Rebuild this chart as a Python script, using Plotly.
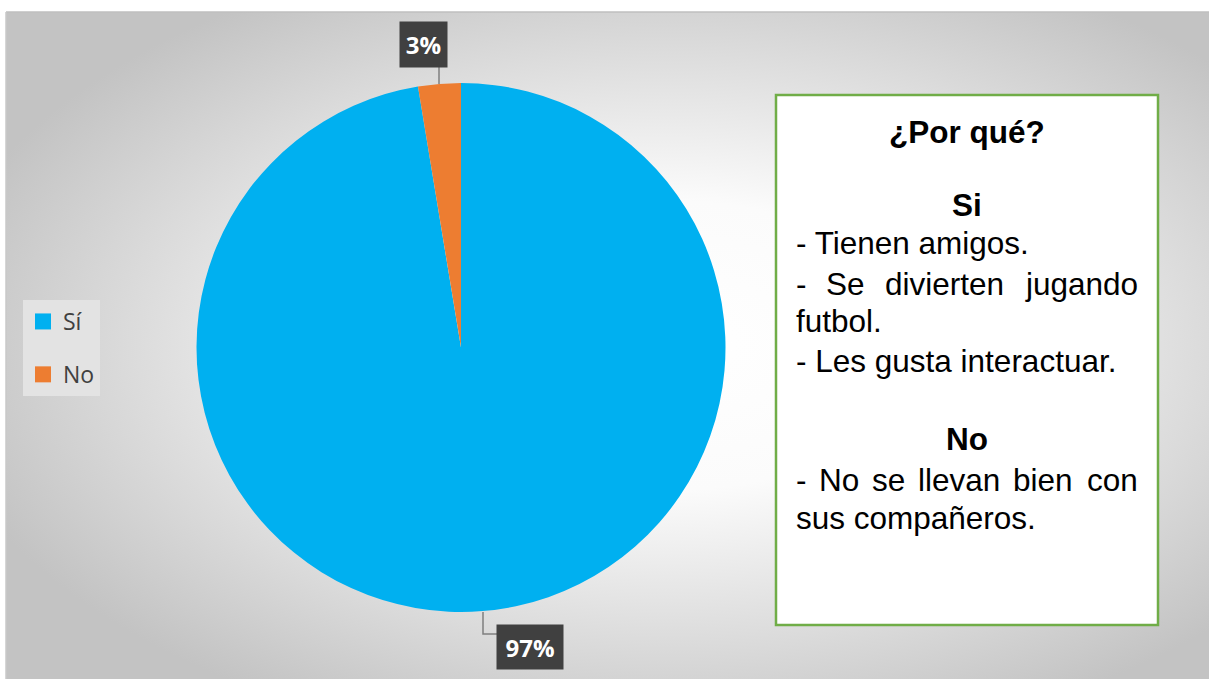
"""
Gráfico de pastel: ¿Le gusta ir a la escuela? con cuadro de razones
"""

import base64
import plotly.graph_objects as go

# Datos del gráfico
categorias = ["Sí", "No"]
porcentajes = [97.4, 2.6]
colores = ["#00b0f0", "#ed7d31"]

# Texto del cuadro de la derecha
titulo_cuadro = "¿Por qué?"
subtitulo_si = "Si"
razones_si = ["- Tienen amigos.", "- Se divierten jugando", "futbol.", "- Les gusta interactuar."]
subtitulo_no = "No"
razones_no = ["- No se llevan bien con", "sus compañeros."]

W, H = 1209, 679


def px(x):
    return x / W


def py(y):
    return 1 - y / H


# Fondo con degradado radial (como el relleno del área del gráfico)
svg_fondo = (
    '<svg xmlns="http://www.w3.org/2000/svg" width="1203" height="667" '
    'preserveAspectRatio="none">'
    '<defs><radialGradient id="g" cx="0.55" cy="0.5" r="0.62">'
    '<stop offset="0" stop-color="#ffffff"/>'
    '<stop offset="0.35" stop-color="#fbfbfb"/>'
    '<stop offset="1" stop-color="#c3c3c3"/>'
    '</radialGradient></defs>'
    '<rect width="1203" height="667" fill="url(#g)"/></svg>'
)
fuente_fondo = "data:image/svg+xml;base64," + base64.b64encode(svg_fondo.encode()).decode()

fig = go.Figure()

fig.add_trace(go.Pie(
    labels=categorias,
    values=porcentajes,
    marker=dict(colors=colores, line=dict(width=0)),
    sort=False,
    direction="clockwise",
    rotation=0,
    textinfo="none",
    showlegend=False,
    domain=dict(x=[px(196.5), px(725.5)], y=[py(612), py(83)]),
    hovertemplate="%{label}: %{percent}<extra></extra>"
))

# Leyenda con trazas auxiliares (para controlar el espaciado)
for cat, col in zip(categorias, colores):
    fig.add_trace(go.Scatter(
        x=[None], y=[None], mode="markers", name=cat,
        legendgroup=cat,
        marker=dict(symbol="square", size=16, color=col),
    ))

# Etiquetas de porcentaje en cajas oscuras
total = sum(porcentajes)
etiquetas = [f"{v / total * 100:.0f}%" for v in porcentajes]
cajas = [(530, 647, 66, 44), (423.5, 44.5, 47, 45)]  # (cx, cy, ancho, alto) para Sí, No

anotaciones = []
for texto, (cx, cy, w, h) in zip(etiquetas, cajas):
    anotaciones.append(dict(
        text=f"<b>{texto}</b>", xref="paper", yref="paper",
        x=px(cx), y=py(cy), xanchor="center", yanchor="middle",
        showarrow=False, bgcolor="#404040", width=w - 4, height=h - 4,
        borderpad=2, font=dict(family="Open Sans", size=24, color="white")
    ))

fuente_caja = "Liberation Sans"
tam = 31.5

# anchos de Arial (en milésimas de em) para justificar las líneas
anchos_arial = {
    "-": 333, "S": 667, "e": 556, "d": 556, "i": 222, "v": 500, "r": 333, "t": 278,
    "n": 556, "j": 222, "u": 556, "g": 556, "a": 556, "o": 556, "N": 722, "s": 500,
    "l": 222, "b": 556, "c": 500,
}


def linea(texto, x, y, anchor="left", negrita=False):
    ajuste = {"left": -2, "right": 2, "center": 0}[anchor]
    return dict(
        text=f"<b>{texto}</b>" if negrita else texto,
        xref="paper", yref="paper", x=px(x + ajuste), y=py(y),
        xanchor=anchor, yanchor="middle", showarrow=False, borderpad=0,
        font=dict(family=fuente_caja, size=tam, color="black")
    )


def justificada(texto, y, x0=797, x1=1137):
    palabras = texto.split(" ")
    anchos = [sum(anchos_arial.get(c, 556) for c in p) / 1000 * tam for p in palabras]
    hueco = (x1 - x0 - sum(anchos)) / (len(palabras) - 1)
    res = []
    pos = x0
    for i, p in enumerate(palabras):
        if i == len(palabras) - 1:
            res.append(linea(p, x1, y, anchor="right"))
        else:
            res.append(linea(p, pos, y))
        pos += anchos[i] + hueco
    return res


cx_caja = (776 + 1158) / 2
anotaciones.append(linea(titulo_cuadro, cx_caja, 132, anchor="center", negrita=True))
anotaciones.append(linea(subtitulo_si, cx_caja, 205, anchor="center", negrita=True))
anotaciones.append(linea(razones_si[0], 797, 243))
anotaciones += justificada(razones_si[1], 284)
anotaciones.append(linea(razones_si[2], 797, 321))
anotaciones.append(linea(razones_si[3], 797, 361))
anotaciones.append(linea(subtitulo_no, cx_caja, 439, anchor="center", negrita=True))
anotaciones += justificada(razones_no[0], 480)
anotaciones.append(linea(razones_no[1], 797, 518))

formas = [
    # borde del área del gráfico
    dict(type="line", xref="paper", yref="paper", x0=px(6), x1=px(1209), y0=py(12), y1=py(12),
         line=dict(color="#bfbfbf", width=1.5)),
    dict(type="line", xref="paper", yref="paper", x0=px(6), x1=px(6), y0=py(12), y1=py(679),
         line=dict(color="#c9c9c9", width=1.5)),
    # líneas guía de las etiquetas
    dict(type="line", xref="paper", yref="paper", x0=px(439), x1=px(439), y0=py(67), y1=py(84),
         line=dict(color="#7f7f7f", width=1.5)),
    dict(type="path", xref="paper", yref="paper",
         path=f"M {px(483)} {py(612)} L {px(483)} {py(634)} L {px(499)} {py(634)}",
         line=dict(color="#7f7f7f", width=1.5)),
    # cuadro de texto
    dict(type="rect", xref="paper", yref="paper", x0=px(776), x1=px(1158), y0=py(95), y1=py(625),
         fillcolor="white", line=dict(color="#70ad47", width=2.5), layer="above"),
]

fig.update_layout(
    width=W,
    height=H,
    margin=dict(l=0, r=0, t=0, b=0),
    paper_bgcolor="white",
    plot_bgcolor="rgba(0,0,0,0)",
    xaxis=dict(visible=False),
    yaxis=dict(visible=False),
    images=[dict(
        source=fuente_fondo, xref="paper", yref="paper",
        x=px(6), y=py(12), sizex=px(1209) - px(6), sizey=py(12) - py(679),
        xanchor="left", yanchor="top", sizing="stretch", layer="below"
    )],
    shapes=formas,
    annotations=anotaciones,
    showlegend=True,
    legend=dict(
        x=px(23), y=py(300), xanchor="left", yanchor="top",
        bgcolor="#e3e3e3", borderwidth=0,
        font=dict(family="Open Sans", size=23, color="#404040"),
        tracegroupgap=20, itemwidth=30,
    ),
)

# quitar el margen por defecto del <body> para que la figura ocupe toda la ventana
fig.write_html("out.html", config={"displayModeBar": False},
               post_script="document.body.style.margin='0';")
